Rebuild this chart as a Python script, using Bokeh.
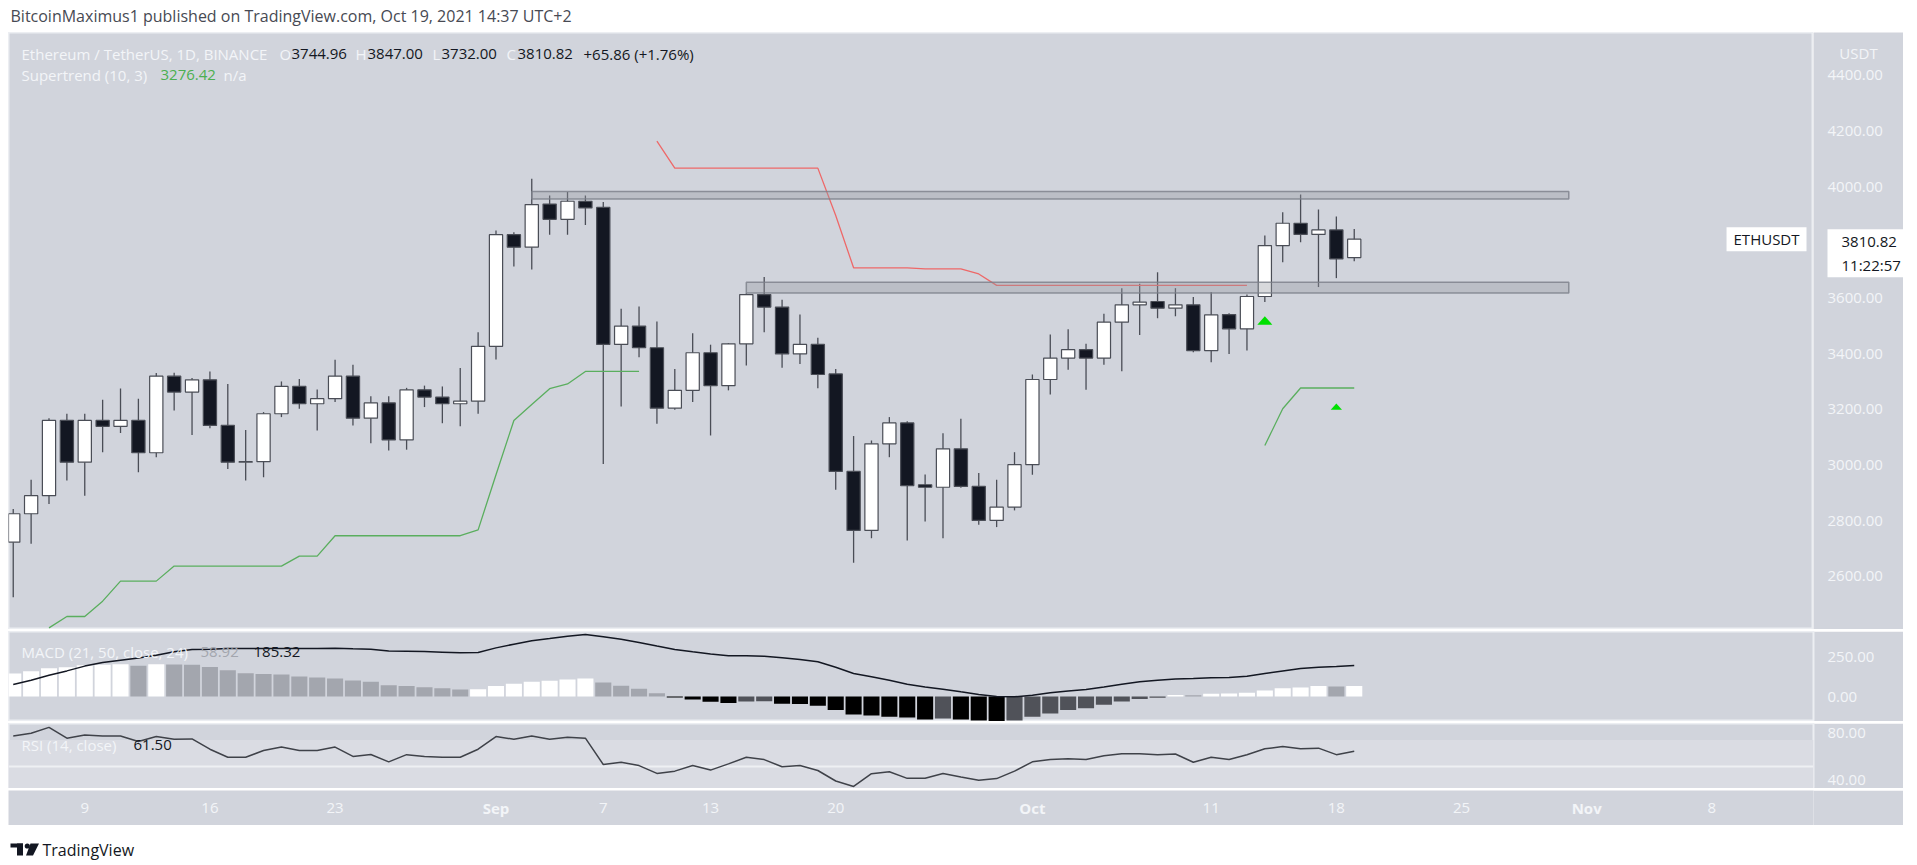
import numpy as np
import pandas as pd
from bokeh.plotting import figure
from bokeh.models import (Range1d, FixedTicker, PrintfTickFormatter, Label, BoxAnnotation,
                          Span, ColumnDataSource, Spacer, LinearAxis)
from bokeh.layouts import column, row
from bokeh.embed import file_html
from bokeh.resources import INLINE
from bokeh.core.properties import value

nan = float("nan")

# ---------------- data ----------------
dates = pd.date_range("2021-08-05", "2021-10-19", freq="D")

open_ = [2723, 2825, 2890, 3160, 3010, 3160, 3139, 3160, 3044, 3319, 3262, 3306, 3142, 3010, 3012,
         3184, 3282, 3220, 3238, 3319, 3168, 3223, 3090, 3270, 3244, 3220, 3229,
         3426, 3827, 3782, 3937, 3882, 3947, 3925, 3433, 3499, 3421, 3204, 3268, 3403, 3285, 3435,
         3612, 3567, 3399, 3433, 3327, 2977, 2765, 3076, 3151, 2929, 2920, 3058, 2923, 2801, 2849,
         3001, 3307, 3384, 3414, 3384, 3513, 3575, 3587, 3563, 3575, 3411, 3540, 3489, 3605, 3788,
         3868, 3828, 3844, 3744.96]
high = [2842, 2947, 3168, 3184, 3184, 3234, 3275, 3238, 3330, 3331, 3312, 3336, 3291, 3126, 3190,
        3300, 3309, 3271, 3378, 3360, 3247, 3247, 3277, 3285, 3282, 3348, 3477,
        3842, 3836, 4028, 3968, 3980, 3968, 3944, 3561, 3569, 3515, 3345, 3473, 3432, 3438, 3617,
        3675, 3593, 3540, 3457, 3345, 3104, 3088, 3172, 3157, 2966, 3114, 3166, 2971, 2947, 3046,
        3325, 3469, 3487, 3435, 3543, 3635, 3651, 3692, 3635, 3603, 3621, 3545, 3612, 3824, 3908,
        3971, 3917, 3892, 3847.00]
low = [2525, 2717, 2860, 2944, 2890, 3046, 3115, 2974, 3028, 3196, 3108, 3132, 2986, 2944, 2956,
       3172, 3202, 3124, 3226, 3142, 3078, 3052, 3055, 3208, 3150, 3139, 3184,
       3379, 3713, 3702, 3827, 3827, 3862, 3004, 3210, 3387, 3148, 3198, 3226, 3106, 3268, 3357,
       3477, 3349, 3363, 3276, 2911, 2649, 2737, 3028, 2729, 2797, 2737, 2918, 2785, 2777, 2837,
       2965, 3253, 3342, 3270, 3360, 3337, 3467, 3527, 3534, 3405, 3369, 3399, 3411, 3585, 3728,
       3800, 3639, 3671, 3732.00]
close = [2825, 2890, 3160, 3010, 3160, 3139, 3160, 3044, 3319, 3262, 3306, 3142, 3010, 3012, 3184,
         3282, 3220, 3238, 3319, 3168, 3223, 3090, 3270, 3244, 3220, 3229, 3426,
         3827, 3782, 3935, 3882, 3947, 3923, 3433, 3499, 3421, 3204, 3268, 3403, 3285, 3435, 3612,
         3567, 3399, 3433, 3325, 2977, 2765, 3076, 3151, 2926, 2920, 3058, 2923, 2801, 2849, 3001,
         3307, 3384, 3414, 3384, 3513, 3575, 3585, 3563, 3575, 3411, 3539, 3489, 3605, 3788, 3868,
         3828, 3844, 3740, 3810.82]

supertrend_up = [nan, nan, 2415, 2456, 2456, 2511, 2583, 2583, 2583, 2637, 2637, 2637, 2637, 2637,
                 2637, 2637, 2673, 2673, 2746, 2746, 2746, 2746, 2746, 2746, 2746, 2746, 2767,
                 2965, 3160, 3217, 3274, 3291, 3336, 3336, 3336, 3336] + [nan] * 21 + \
                [nan] * 13 + [3070, 3202, 3276.42, 3276.42, 3276.42, 3276.42]
supertrend_down = [nan] * 27 + [nan] * 9 + \
                  [4163, 4066, 4066, 4066, 4066, 4066, 4066, 4066, 4066, 4066, 3896, 3708, 3708,
                   3708, 3708, 3704, 3704, 3704, 3686, 3645, 3645] + [3645] * 13 + [nan] * 6

macd_hist = [144, 158, 177, 183, 196, 199, 201, 192, 201, 200, 199, 185, 164, 146, 140, 138, 125,
             119, 112, 100, 92, 71, 65, 58, 52, 44, 46,
             65, 80, 92, 98, 106, 113, 88, 67, 48, 21, -6, -19, -33, -40, -31, -30, -46, -47, -58,
             -85, -112, -119, -127, -131, -144, -137, -143, -150, -158, -150,
             -127, -106, -85, -73, -52, -31, -15, -8, 10, 8, 17, 18, 23, 37, 52, 56, 65, 62, 65]
macd_line = [75, 102, 133, 160, 190, 212, 227, 240, 258, 279, 294, 296, 300, 300, 300, 300, 300,
             300, 302, 298, 296, 285, 283, 281, 277, 273, 275,
             304, 327, 348, 362, 377, 387, 373, 358, 337, 315, 294, 279, 265, 254, 254, 252, 242,
             231, 217, 183, 144, 123, 102, 77, 60, 46, 29, 13, 0, -2,
             8, 23, 35, 44, 60, 77, 92, 102, 110, 112, 117, 119, 127, 144, 160, 175, 183, 188, 194]
rsi = [73, 75, 79.4, 71.3, 73.7, 73, 73, 68.8, 72.5, 70.5, 70.7, 63, 57, 57, 62, 64.6, 62, 62, 64.6,
       57.6, 59, 53.5, 58.9, 57.6, 57, 57, 63,
       72.5, 70.5, 73, 70.5, 72, 71.3, 51.5, 53.2, 50.7, 44.8, 46.5, 50.7, 47.3, 52, 56.9, 55.2,
       49.8, 50.7, 47, 39.1, 35, 44.6, 46, 41.1, 41.1, 44.8, 42.1, 39.6, 40.9, 46.5,
       53.5, 55.2, 55.9, 55.2, 58.1, 59.6, 59.6, 58.9, 59.4, 53.2, 57, 55.2, 58.9, 63.3, 65, 63.3,
       63.8, 58.9, 61.5]

zone_left = ["2021-09-03", "2021-09-15"]
zone_right = ["2021-10-31", "2021-10-31"]
zone_bottom = [3955, 3618]
zone_top = [3982, 3656]

signal_dates = ["2021-10-14", "2021-10-18"]
signal_prices = [3519, 3210]

price_ticks = [2600, 2800, 3000, 3200, 3400, 3600, 3800, 4000, 4200, 4400]
macd_ticks = [0, 250]
rsi_ticks = [40, 80]
time_tick_dates = ["2021-08-09", "2021-08-16", "2021-08-23", "2021-09-01", "2021-09-07",
                   "2021-09-13", "2021-09-20", "2021-10-01", "2021-10-11", "2021-10-18",
                   "2021-10-25", "2021-11-01", "2021-11-08"]
time_tick_labels = ["9", "16", "23", "Sep", "7", "13", "20", "Oct", "11", "18", "25", "Nov", "8"]
month_labels = ["Sep", "Oct", "Nov"]

header_text = "BitcoinMaximus1 published on TradingView.com, Oct 19, 2021 14:37 UTC+2"
symbol_text = "Ethereum / TetherUS, 1D, BINANCE"
countdown_text = "11:22:57"

# ---------------- styles ----------------
BG = "#d1d4dc"
SEP = "#eceef2"
TXT = "#f3f5f8"
DARK = "#131722"
WICK = "#4a4d56"
UP = "#ffffff"
DOWN = "#131722"
GREEN = "#5aae5e"
RED = "#ee6868"
FONT = "Open Sans"
FS = "15px"
DAY = 86400000.0
PW = 1895          # pane width (frame 1805 + scale 90)
FRAME_W = 1805
SCALE_W = 90

sep1 = pd.Timestamp("2021-09-01")
xr = Range1d(start=sep1 - pd.Timedelta(days=27.265), end=sep1 + pd.Timedelta(days=73.686))


def ms(d):
    return pd.Timestamp(d).value / 1e6


def base_fig(width, height, x_range, y_range, **kw):
    opts = dict(width=width, height=height, x_range=x_range, y_range=y_range,
                x_axis_location=None, y_axis_location=None, toolbar_location=None,
                output_backend="svg", min_border_left=0, min_border_right=0,
                min_border_top=0, min_border_bottom=0,
                background_fill_color=BG, border_fill_color=BG, outline_line_color=None)
    opts.update(kw)
    p = figure(**opts)
    p.grid.grid_line_color = None
    return p


def make_pane(height, y0, y1, ticks, label_ticks=None, overrides=None):
    p = base_fig(PW, height, xr, Range1d(y0, y1), min_border_right=SCALE_W,
                 outline_line_color=SEP, outline_line_width=2)
    ax = LinearAxis(ticker=FixedTicker(ticks=label_ticks or ticks),
                    formatter=PrintfTickFormatter(format="%.2f"),
                    axis_line_color=None, major_tick_line_color=None, minor_tick_line_color=None,
                    major_tick_out=0, major_tick_in=0,
                    major_label_text_color=TXT, major_label_text_font=FONT,
                    major_label_text_font_size=FS, major_label_standoff=14)
    if overrides:
        ax.major_label_overrides = overrides
    p.add_layout(ax, "right")
    return p


def lab(p, x, y, text, color, size=FS, bold=False, align="left", xu="screen", yu="screen", **kw):
    p.add_layout(Label(x=x, y=y, x_units=xu, y_units=yu, text=text, text_color=color,
                       text_font=FONT, text_font_size=size,
                       text_font_style="bold" if bold else "normal",
                       text_align=align, text_baseline="middle", **kw))


# ---------------- price pane (plot + price scale strip) ----------------
price_yr = Range1d(2409.3, 4553.0)
price = base_fig(FRAME_W, 597, xr, price_yr, outline_line_color=SEP, outline_line_width=2)

src = ColumnDataSource(dict(
    date=dates, o=open_, h=high, l=low, c=close,
    top=np.maximum(open_, close), bot=np.minimum(open_, close),
    fill=[UP if c_ >= o_ else DOWN for o_, c_ in zip(open_, close)]))
price.segment(x0="date", y0="h", x1="date", y1="l", source=src, line_color=WICK, line_width=1.3)
price.vbar(x="date", width=0.74 * DAY, top="top", bottom="bot", fill_color="fill",
           line_color=WICK, line_width=1.2, source=src)

price.line(dates, np.array(supertrend_up, dtype=float), line_color=GREEN, line_width=1.3)
price.line(dates, np.array(supertrend_down, dtype=float), line_color=RED, line_width=1.3)

price.quad(left=pd.to_datetime(zone_left), right=pd.to_datetime(zone_right),
           bottom=zone_bottom, top=zone_top, fill_color="#9598a1", fill_alpha=0.37,
           line_color="#7b7e88", line_alpha=0.8, line_width=1.5)

sig_scale = [1.0, 0.75]
sxs, sys_ = [], []
for d, pr, s in zip(signal_dates, signal_prices, sig_scale):
    cx = ms(d)
    hw = 0.42 * DAY * s
    hh = 15 * s
    sxs.append([cx - hw, cx, cx + hw])
    sys_.append([pr - hh, pr + hh, pr - hh])
price.patches(sxs, sys_, fill_color="#00e000", line_color=None)

L1, L2 = 576, 554.5
o_, h_, l_, c_ = open_[-1], high[-1], low[-1], close[-1]
lab(price, 13, L1, symbol_text, TXT)
lab(price, 271, L1, "O", TXT)
lab(price, 283, L1, f"{o_:.2f}", DARK)
lab(price, 347, L1, "H", TXT)
lab(price, 359, L1, f"{h_:.2f}", DARK)
lab(price, 424, L1, "L", TXT)
lab(price, 433, L1, f"{l_:.2f}", DARK)
lab(price, 498, L1, "C", TXT)
lab(price, 509, L1, f"{c_:.2f}", DARK)
lab(price, 575, L1, "+65.86 (+1.76%)", DARK)
lab(price, 13, L2, "Supertrend (10, 3)", TXT)
lab(price, 152, L2, f"{supertrend_up[-1]:.2f}", "#4caf50")
lab(price, 215, L2, "n/a", TXT)

price.add_layout(Label(x=FRAME_W - 7, y=c_, x_units="screen", y_units="data", text="ETHUSDT",
                       text_align="right", text_baseline="middle", text_color=DARK,
                       text_font=FONT, text_font_size=FS, background_fill_color="#ffffff",
                       padding=(7, 2)))

# price scale strip: shares the price y range
scale = base_fig(SCALE_W, 597, Range1d(0, SCALE_W), price_yr)
scale.text(x=[14] * len(price_ticks), y=price_ticks, text=[f"{t:.2f}" for t in price_ticks],
           text_font=value(FONT), text_font_size=FS, text_color=TXT,
           text_baseline="middle", text_align="left")
lab(scale, 45, 577, "USDT", TXT, align="center")
scale.add_layout(Label(x=14, y=c_, x_units="screen", y_units="data",
                       text=f"{c_:.2f}\n{countdown_text}", text_align="left", text_baseline="top",
                       y_offset=10, text_color=DARK, text_font=FONT, text_font_size=FS,
                       background_fill_color="#ffffff", padding=(14, 2)))

# ---------------- MACD pane ----------------
macd = make_pane(90, -156.25, 406.25, macd_ticks)
hist_colors = []
prev = None
for v in macd_hist:
    rising = prev is None or v >= prev
    if v >= 0:
        hist_colors.append("#ffffff" if rising else "#a3a6ae")
    else:
        hist_colors.append("#505259" if rising else "#000000")
    prev = v
macd.vbar(x=dates, top=macd_hist, bottom=0, width=0.9 * DAY, fill_color=hist_colors,
          line_color=None)
macd.line(dates, macd_line, line_color=DARK, line_width=1.5)
lab(macd, 13, 70, "MACD (21, 50, close, 24)", TXT)
lab(macd, 192, 70, "58.92", "#a3a6ae")
lab(macd, 245, 70, "185.32", DARK)

# ---------------- RSI pane ----------------
# the top scale label is nudged a few pixels down so it is not cut by the pane edge
rsi_label_pos = [40, 75.2]
rsip = make_pane(65, 33.46, 82.33, rsi_ticks, label_ticks=rsi_label_pos,
                 overrides={40: "40.00", 75.2: "80.00"})
rsip.add_layout(BoxAnnotation(bottom=30, top=70, fill_color="#dadce3", fill_alpha=1,
                              line_color=None, level="underlay"))
rsip.add_layout(Span(location=50, dimension="width", line_color="#eef0f3", line_width=2,
                     level="underlay"))
rsip.line(dates, rsi, line_color="#3f4249", line_width=1.5)
lab(rsip, 13, 44, "RSI (14, close)", TXT)
lab(rsip, 125, 44, f"{rsi[-1]:.2f}", DARK)

# ---------------- time scale ----------------
tfig = base_fig(PW, 35, xr, Range1d(0, 1), min_border_right=SCALE_W)
day_dates = [pd.Timestamp(d) for d, t in zip(time_tick_dates, time_tick_labels) if t not in month_labels]
day_text = [t for t in time_tick_labels if t not in month_labels]
mon_dates = [pd.Timestamp(d) for d, t in zip(time_tick_dates, time_tick_labels) if t in month_labels]
mon_text = [t for t in time_tick_labels if t in month_labels]
tfig.text(x=day_dates, y=[0.5] * len(day_dates), text=day_text, text_font=value(FONT),
          text_font_size=FS, text_color=TXT, text_baseline="middle", text_align="center")
tfig.text(x=mon_dates, y=[0.5] * len(mon_dates), text=mon_text, text_font=value(FONT),
          text_font_size=FS, text_font_style="bold", text_color=TXT,
          text_baseline="middle", text_align="center")

# ---------------- header / footer ----------------
head = figure(width=1917, height=32, x_range=Range1d(0, 1917), y_range=Range1d(32, 0),
              x_axis_location=None, y_axis_location=None, toolbar_location=None,
              output_backend="svg", min_border=0, outline_line_color=None,
              background_fill_color="#ffffff", border_fill_color="#ffffff")
head.grid.grid_line_color = None
head.text(x=[10], y=[15], text=[header_text], text_font=value(FONT), text_font_size="16px",
          text_color="#474a53", text_baseline="middle", text_align="left")

foot = figure(width=1917, height=40, x_range=Range1d(0, 1917), y_range=Range1d(40, 0),
              x_axis_location=None, y_axis_location=None, toolbar_location=None,
              output_backend="svg", min_border=0, outline_line_color=None,
              background_fill_color="#ffffff", border_fill_color="#ffffff")
foot.grid.grid_line_color = None
foot.quad(left=[10, 16.5], right=[22.5, 22.5], top=[18, 18], bottom=[22, 30],
          fill_color=DARK, line_color=None)
foot.circle(x=[26.8], y=[20.5], radius=2.6, fill_color=DARK, line_color=None)
foot.patch([30, 38.5, 32.5, 25.5], [18, 18, 30, 30], fill_color=DARK, line_color=None)
foot.text(x=[42], y=[24], text=["TradingView"], text_font=value(FONT), text_font_size="16px",
          text_color=DARK, text_baseline="middle", text_align="left")

panes = column(row(price, scale), macd, rsip, tfig, spacing=2)
layout = column(head, row(Spacer(width=8, height=10), panes), foot)

open("out.html", "w").write(file_html(layout, INLINE))
